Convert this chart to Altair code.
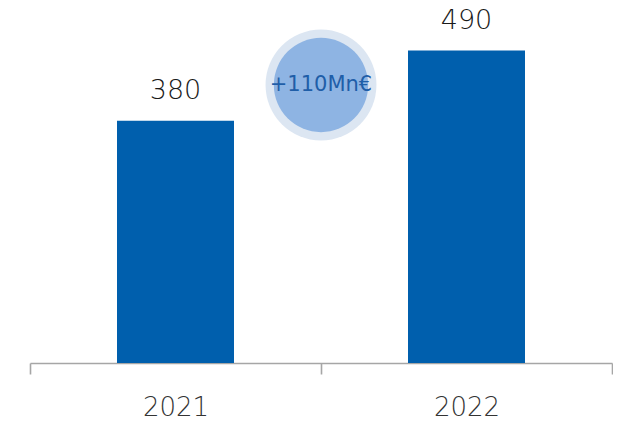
import altair as alt
import pandas as pd

years = ["2021", "2022"]
values = [380, 490]
bubble_label = ["+110Mn€"]
bubble_value = [436]

df = pd.DataFrame({"year": years, "value": values})
bub = pd.DataFrame({"label": bubble_label, "value": bubble_value})

FONT = "DejaVu Sans"
ymax = 541

x = alt.X("year:N", title=None,
          scale=alt.Scale(paddingInner=0, paddingOuter=0),
          axis=alt.Axis(labelAngle=0, tickBand="extent", domainColor="#a6a6a6",
                        domainWidth=1.6, tickColor="#a6a6a6", tickWidth=1.6,
                        tickSize=11, labelFontSize=26, labelFont=FONT,
                        labelFontWeight=200, labelColor="#333333",
                        labelPadding=20, grid=False))
y = alt.Y("value:Q", title=None, scale=alt.Scale(domain=[0, ymax], nice=False, zero=True),
          axis=None)

bars = alt.Chart(df).mark_bar(size=117, color="#005fad").encode(x=x, y=y)
labels = alt.Chart(df).mark_text(font=FONT, fontSize=27, fontWeight=200, color="#1a1a1a",
                                 baseline="alphabetic", dy=-22).encode(
    x=alt.X("year:N"), y=alt.Y("value:Q"), text=alt.Text("value:Q"))

ybub = alt.Y("value:Q")
outer = alt.Chart(bub).mark_circle(size=12300, color="#dce6f2", opacity=1).encode(
    x=alt.value(291), y=ybub)
inner = alt.Chart(bub).mark_circle(size=8900, color="#8eb4e3", opacity=1).encode(
    x=alt.value(291), y=ybub)
btext = alt.Chart(bub).mark_text(font=FONT, fontSize=21, fontWeight="normal", color="#1f5ea8",
                                 baseline="middle", align="center").encode(
    x=alt.value(291), y=ybub, text="label:N")

chart = alt.layer(bars, labels, outer, inner, btext).properties(
    width=582, height=345,
    background="white",
    autosize=alt.AutoSizeParams(type="none"),
    padding={"left": 22, "top": 10, "right": 1, "bottom": 53},
).configure_view(strokeWidth=0, stroke=None)

chart.save("out.html", embed_options={"renderer": "svg", "actions": False})
